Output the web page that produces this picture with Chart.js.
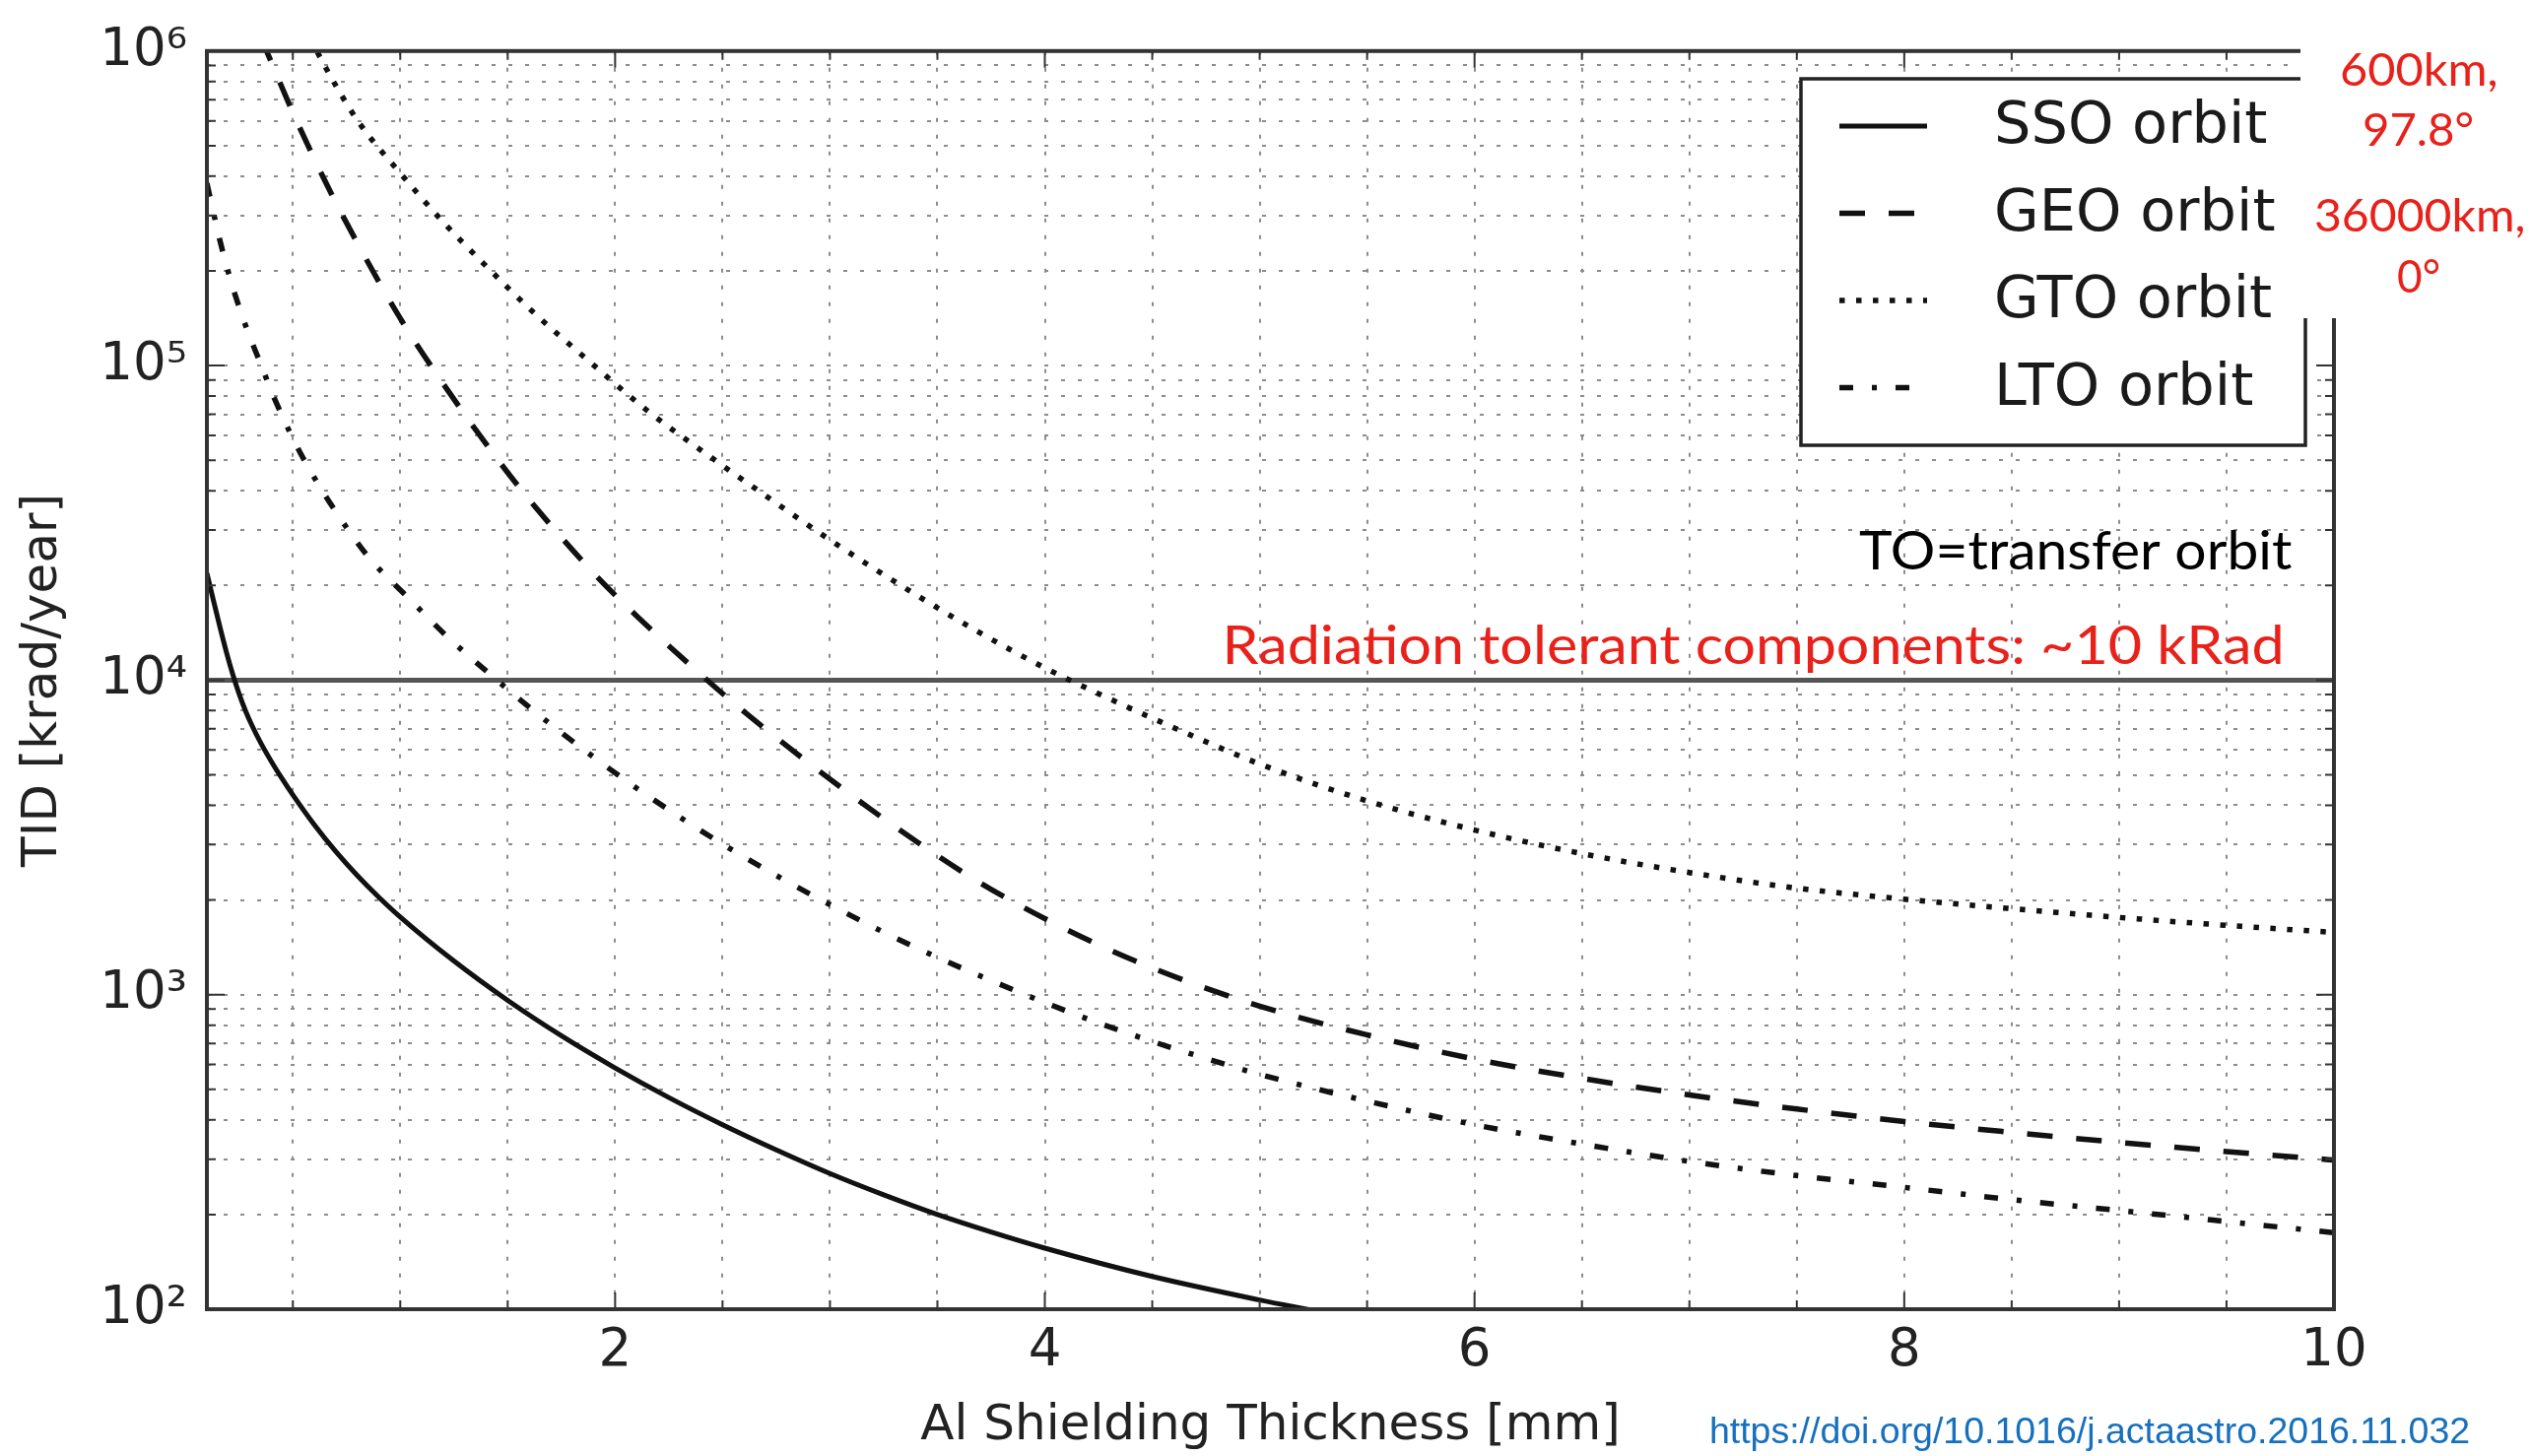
<!DOCTYPE html>
<html>
<head>
<meta charset="utf-8">
<script src="https://cdn.jsdelivr.net/npm/chart.js@4.4.1/dist/chart.umd.min.js"></script>
<style>
html,body{margin:0;padding:0;background:#fff;overflow:hidden}
#wrap{width:2569px;height:1478px;position:relative;background:#fff}
</style>
</head>
<body>
<div id="wrap"><canvas id="c" width="2569" height="1478"></canvas></div>
<script>
// ---------- data ----------
const seriesNames = ['SSO orbit', 'GEO orbit', 'GTO orbit', 'LTO orbit'];

const ssoThickness = [0.1, 0.13, 0.16, 0.19, 0.22, 0.25, 0.28, 0.31, 0.35, 0.4, 0.45, 0.5, 0.6, 0.7, 0.8, 0.9, 1.0, 1.25, 1.5, 1.75, 2.0, 2.25, 2.5, 2.75, 3.0, 3.25, 3.5, 3.75, 4.0, 4.5, 5.0, 5.2, 5.4];
const ssoTID       = [21880, 17970, 14810, 12330, 10450, 9040, 7980, 7170, 6330, 5515, 4860, 4315, 3467, 2851, 2393, 2042, 1766, 1279, 959, 740, 585, 471, 386, 321, 270, 231, 200, 176, 156.4, 127.1, 107, 100.5, 94.6];

const geoThickness = [0.35, 0.378, 0.5, 0.667, 0.8, 1.0, 1.2, 1.45, 1.6, 1.9, 2.1, 2.43, 2.6, 2.95, 3.33, 3.7, 4.1, 4.5, 5.0, 5.5, 6.0, 6.5, 7.0, 7.5, 8.0, 8.5, 9.0, 9.5, 10];
const geoTID       = [1109000, 1000000, 638000, 365600, 245500, 141300, 87500, 50650, 37500, 21880, 16000, 9977, 7943, 5140, 3319, 2265, 1611, 1216, 920, 745, 624, 542, 480, 433, 395, 365, 339, 317, 298];

const gtoThickness = [0.58, 0.63, 0.8, 1.0, 1.2, 1.4, 1.62, 1.87, 2.15, 2.48, 2.68, 3.0, 3.33, 3.68, 4.0, 4.25, 4.55, 5.0, 5.5, 6.0, 6.5, 7.0, 7.5, 8.0, 8.5, 9.0, 9.5, 10];
const gtoTID       = [1107000, 946000, 603000, 409000, 286000, 207000, 147600, 104500, 71900, 49200, 39450, 27900, 20000, 14370, 10940, 9057, 7311, 5414, 4130, 3338, 2809, 2445, 2181, 2012, 1877, 1760, 1661, 1578];

const ltoThickness = [0.1, 0.16, 0.2, 0.25, 0.3, 0.35, 0.4, 0.5, 0.6, 0.7, 0.85, 1.05, 1.22, 1.43, 1.63, 1.85, 2.07, 2.3, 2.53, 2.77, 3.0, 3.25, 3.5, 3.75, 4.0, 4.25, 4.5, 4.75, 5.0, 5.5, 6.0, 6.5, 7.0, 7.5, 8.0, 8.5, 9.0, 9.5, 10];
const ltoTID       = [380000, 251000, 197700, 153500, 123300, 101400, 82900, 58700, 44000, 34310, 24720, 17910, 13720, 10270, 7898, 6037, 4687, 3673, 2925, 2351, 1933, 1580, 1314, 1109, 944, 813, 710, 627, 558, 459, 386, 335, 295, 266, 244, 223, 206, 190, 175];

const toleranceThickness = [0.1, 10];
const toleranceTID = [10000, 10000];

const xTickLabels = [2, 4, 6, 8, 10];
const yTickValues = [100, 1000, 10000, 100000, 1000000];
const yTickLabels = ['10²', '10³', '10⁴', '10⁵', '10⁶'];

const xTitle = 'Al Shielding Thickness [mm]';
const yTitle = 'TID [krad/year]';
const noteTexts = ['TO=transfer orbit', 'Radiation tolerant components: ~10 kRad', '600km,', '97.8°', '36000km,', '0°', 'https://doi.org/10.1016/j.actaastro.2016.11.032'];

// ---------- helpers ----------
const pts = (xs, ys) => xs.map((x, i) => ({x: x, y: ys[i]}));
const xGrid = [];
for (let i = 1; i <= 20; i++) xGrid.push(i * 0.5);
const yGrid = [];
for (let e = 2; e <= 5; e++) for (let m = 1; m <= 9; m++) yGrid.push(m * Math.pow(10, e));
yGrid.push(1000000);

const INK = '#111';
const RED = 'rgb(232,33,26)';
const BLUE = '#1670be';

function fitText(ctx, text, font, color, left, right, baseline) {
  ctx.save();
  ctx.font = font;
  ctx.fillStyle = color;
  ctx.textAlign = 'left';
  ctx.textBaseline = 'alphabetic';
  const m = ctx.measureText(text);
  const ink = m.actualBoundingBoxLeft + m.actualBoundingBoxRight;
  const sx = (right - left) / ink;
  ctx.translate(left + m.actualBoundingBoxLeft * sx, baseline);
  ctx.scale(sx, 1);
  ctx.fillText(text, 0, 0);
  ctx.restore();
}

const decor = {
  id: 'decor',
  afterDraw(chart) {
    const ctx = chart.ctx;
    const a = chart.chartArea;
    const xs = chart.scales.x, ys = chart.scales.y;
    ctx.save();
    // inward tick marks
    ctx.strokeStyle = '#333';
    ctx.lineWidth = 2;
    ctx.setLineDash([]);
    ctx.beginPath();
    xs.ticks.forEach(t => {
      const px = xs.getPixelForValue(t.value);
      const len = xTickLabels.includes(t.value) ? 17 : 9;
      ctx.moveTo(px, a.bottom); ctx.lineTo(px, a.bottom - len);
      ctx.moveTo(px, a.top); ctx.lineTo(px, a.top + len);
    });
    ys.ticks.forEach(t => {
      const py = ys.getPixelForValue(t.value);
      const len = yTickValues.includes(t.value) ? 18 : 9;
      ctx.moveTo(a.left, py); ctx.lineTo(a.left + len, py);
      ctx.moveTo(a.right, py); ctx.lineTo(a.right - len, py);
    });
    ctx.stroke();
    // spines
    ctx.lineWidth = 4;
    ctx.strokeStyle = '#333';
    ctx.strokeRect(a.left, a.top, a.right - a.left, a.bottom - a.top);

    // legend
    const lx0 = 1828, ly0 = 80, lx1 = 2340, ly1 = 452;
    ctx.fillStyle = '#fff';
    ctx.fillRect(lx0, ly0, lx1 - lx0, ly1 - ly0);
    ctx.lineWidth = 3.5;
    ctx.strokeStyle = '#222';
    ctx.strokeRect(lx0, ly0, lx1 - lx0, ly1 - ly0);
    ctx.font = '59px "DejaVu Sans"';
    ctx.textAlign = 'left';
    ctx.textBaseline = 'middle';
    seriesNames.forEach((name, i) => {
      const ds = chart.data.datasets[i];
      const yy = 128 + i * 88.5;
      ctx.save();
      ctx.strokeStyle = ds.borderColor;
      ctx.lineWidth = ds.borderWidth;
      ctx.setLineDash(ds.borderDash || []);
      ctx.beginPath();
      ctx.moveTo(1867, yy);
      ctx.lineTo(1956, yy);
      ctx.stroke();
      ctx.restore();
      ctx.fillStyle = '#1a1a1a';
      ctx.fillText(name, 2024, yy + 2);
    });

    // white patch behind orbit notes
    ctx.fillStyle = '#fff';
    ctx.fillRect(2335, 0, 2569 - 2335, 323);

    // annotations
    fitText(ctx, noteTexts[0], '54px Lato', '#000', 1887, 2326, 578);
    fitText(ctx, noteTexts[1], '54px Lato', RED, 1245, 2315, 674);
    fitText(ctx, noteTexts[2], '46px Lato', RED, 2377, 2534, 87);
    fitText(ctx, noteTexts[3], '46px Lato', RED, 2400, 2510, 148);
    fitText(ctx, noteTexts[4], '46px Lato', RED, 2350, 2562, 235);
    fitText(ctx, noteTexts[5], '46px Lato', RED, 2434, 2476, 297);
    fitText(ctx, noteTexts[6], '36px "Liberation Sans"', BLUE, 1737, 2506, 1465);
    ctx.restore();
  }
};

const common = {pointRadius: 0, pointHoverRadius: 0, fill: false, borderColor: INK, cubicInterpolationMode: 'monotone', borderCapStyle: 'butt'};

new Chart(document.getElementById('c'), {
  type: 'line',
  data: {
    datasets: [
      Object.assign({label: seriesNames[0], data: pts(ssoThickness, ssoTID), borderWidth: 5, borderDash: []}, common),
      Object.assign({label: seriesNames[1], data: pts(geoThickness, geoTID), borderWidth: 5.5, borderDash: [26, 24]}, common),
      Object.assign({label: seriesNames[2], data: pts(gtoThickness, gtoTID), borderWidth: 5.5, borderDash: [5.5, 11.5]}, common),
      Object.assign({label: seriesNames[3], data: pts(ltoThickness, ltoTID), borderWidth: 5.5, borderDash: [14, 19, 5, 19]}, common),
      {label: 'tolerance', data: pts(toleranceThickness, toleranceTID), borderWidth: 5, borderColor: '#555', pointRadius: 0, fill: false, tension: 0}
    ]
  },
  options: {
    responsive: false,
    animation: false,
    devicePixelRatio: 1,
    layout: {padding: {left: 0, top: 49, right: 200, bottom: 0}},
    plugins: {legend: {display: false}, tooltip: {enabled: false}},
    scales: {
      x: {
        type: 'linear', min: 0.1, max: 10,
        afterBuildTicks: s => { s.ticks = xGrid.map(v => ({value: v})); },
        afterFit: s => { s.height = 149; },
        ticks: {autoSkip: false, maxRotation: 0, minRotation: 0, padding: 11, color: '#222',
          font: {family: 'DejaVu Sans', size: 53},
          callback: v => xTickLabels.includes(v) ? String(v) : ''},
        grid: {color: '#8c8c8c', lineWidth: 2, drawTicks: false},
        border: {display: false, dash: [4, 13]},
        title: {display: true, text: xTitle, color: '#222', font: {family: 'DejaVu Sans', size: 50}, padding: {top: 0, bottom: 0}}
      },
      y: {
        type: 'logarithmic', min: 100, max: 1000000,
        afterBuildTicks: s => { s.ticks = yGrid.map(v => ({value: v})); },
        afterFit: s => { s.width = 210; },
        ticks: {autoSkip: false, padding: 20, color: '#222',
          font: {family: 'DejaVu Sans', size: 53},
          callback: v => { const k = yTickValues.indexOf(v); return k >= 0 ? yTickLabels[k] : ''; }},
        grid: {color: '#8c8c8c', lineWidth: 2, drawTicks: false},
        border: {display: false, dash: [4, 13]},
        title: {display: true, text: yTitle, color: '#222', font: {family: 'DejaVu Sans', size: 50}, padding: {top: 14, bottom: 0}}
      }
    }
  },
  plugins: [decor]
});
</script>
</body>
</html>
